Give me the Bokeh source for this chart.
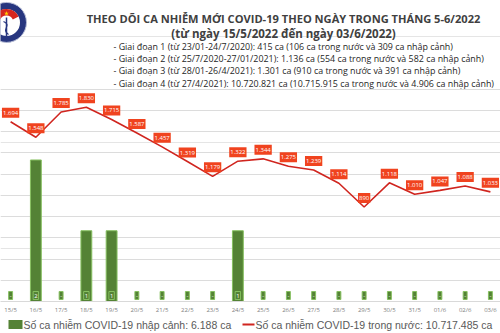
from bokeh.plotting import figure
from bokeh.layouts import column
from bokeh.models import Range1d, FixedTicker, Grid, Label
from bokeh.core.properties import value
from bokeh.embed import file_html
from bokeh.resources import INLINE

# ---------------- data ----------------
dates = ["15/5", "16/5", "17/5", "18/5", "19/5", "20/5", "21/5", "22/5", "23/5", "24/5",
         "25/5", "26/5", "27/5", "28/5", "29/5", "30/5", "31/5", "01/6", "02/6", "03/6"]
domestic = [1694, 1548, 1785, 1830, 1715, 1587, 1457, 1319, 1179, 1322,
            1344, 1275, 1239, 1114, 890, 1118, 1010, 1047, 1088, 1033]
imported = [0, 2, 0, 1, 1, 0, 0, 0, 0, 1,
            0, 0, 0, 0, 0, 0, 0, 0, 0, 0]
grid_ticks = [0, 200, 400, 600, 800, 1000, 1200, 1400, 1600, 1800, 2000]

title = "THEO DÕI CA NHIỄM MỚI COVID-19 THEO NGÀY TRONG THÁNG 5-6/2022"
subtitle = "(từ ngày 15/5/2022 đến ngày 03/6/2022)"
phases = [
    "- Giai đoạn 1 (từ 23/01-24/7/2020): 415 ca (106 ca trong nước và 309 ca nhập cảnh)",
    "- Giai đoạn 2 (từ 25/7/2020-27/01/2021): 1.136 ca (554 ca trong nước và 582 ca nhập cảnh)",
    "- Giai đoạn 3 (từ 28/01-26/4/2021): 1.301 ca (910 ca trong nước và 391 ca nhập cảnh)",
    "- Giai đoạn 4 (từ 27/4/2021): 10.720.821 ca (10.715.915 ca trong nước và 4.906 ca nhập cảnh)",
]
legend_imported = "Số ca nhiễm COVID-19 nhập cảnh: 6.188 ca"
legend_domestic = "Số ca nhiễm COVID-19 trong nước: 10.717.485 ca"

# ---------------- helpers ----------------
def vn(v):
    return f"{v:,}".replace(",", ".")

idx = list(range(len(dates)))
dom_labels = [vn(v) for v in domestic]
imp_labels = [str(v) if v else "-" for v in imported]

BAR = "#548235"
BAR_EDGE = "#86c060"
LINE = "#d0251f"
LBL = "#f0431f"

# ---------------- main chart ----------------
p = figure(width=500, height=316, output_backend="svg", toolbar_location=None,
           x_range=Range1d(-0.4, 19.4), y_range=Range1d(0, 2836),
           y_axis_location=None,
           min_border_left=0, min_border_right=0, min_border_top=0, min_border_bottom=14,
           outline_line_color=None, background_fill_color="white", border_fill_color="white")
p.extra_y_ranges = {"bars": Range1d(0, 4.2535), "px": Range1d(302, 0)}
p.extra_x_ranges = {"px": Range1d(0, 500)}

p.xgrid.visible = False
grid = Grid(dimension=1, ticker=FixedTicker(ticks=grid_ticks),
            grid_line_color="#dcdcdc", grid_line_width=1)
p.add_layout(grid)

ax = p.xaxis[0]
ax.ticker = FixedTicker(ticks=idx)
ax.major_label_overrides = {i: d for i, d in zip(idx, dates)}
ax.major_label_text_font_size = "6px"
ax.major_label_text_color = "#808080"
ax.major_label_text_font = "Open Sans"
ax.major_tick_line_color = None
ax.major_tick_out = 0
ax.major_tick_in = 0
ax.minor_tick_line_color = None
ax.minor_tick_out = 0
ax.axis_line_color = "#d9d9d9"
ax.major_label_standoff = 4

# bars (imported)
bars = p.vbar(x=idx, top=imported, width=0.43, y_range_name="bars",
              fill_color=BAR, line_color=BAR_EDGE, line_width=1)
p.text(x=idx, y=0, text=imp_labels, y_range_name="bars", y_offset=-6,
       text_align="center", text_baseline="middle", text_color="white",
       text_font=value("Open Sans"), text_font_size="6px",
       background_fill_color=BAR, border_line_color=BAR_EDGE, padding=(1, 2))

# line (domestic)
line = p.line(x=idx, y=domestic, line_color=LINE, line_width=1.6)
p.text(x=idx, y=domestic, text=dom_labels, y_offset=-9,
       text_align="center", text_baseline="middle", text_color="white",
       text_font=value("Open Sans"), text_font_size="6px",
       background_fill_color=LBL, padding=(1, 3))

# logo (decoration, canvas-pixel ranges)
kw = dict(x_range_name="px", y_range_name="px")
p.circle(x=6, y=22, radius=20, fill_color="#27367f", line_color="#b9bfd6", line_width=1, **kw)
p.circle(x=6, y=22, radius=13.5, fill_color="white", line_color=None, **kw)
p.annular_wedge(x=6, y=22, inner_radius=7, outer_radius=13.5, start_angle=0.45, end_angle=2.7,
                fill_color="#d7261e", line_color=None, **kw)
p.scatter(x=[6], y=[13], marker="star", size=5, fill_color="#ffd200", line_color=None, **kw)
p.segment(x0=6, y0=17, x1=6, y1=38, line_color="#27367f", line_width=1.5, **kw)
p.bezier(x0=3, y0=21, x1=8, y1=34, cx0=12, cy0=25, cx1=0, cy1=29, line_color="#27367f", line_width=1.2, **kw)

# titles
p.add_layout(Label(x=283, y=18, text=title, text_align="center", text_baseline="middle",
                   text_font="Open Sans", text_font_style="bold", text_font_size="11.1px",
                   text_color="#404040", **kw))
p.add_layout(Label(x=283, y=33, text=subtitle, text_align="center", text_baseline="middle",
                   text_font="Open Sans", text_font_style="bold", text_font_size="11.5px",
                   text_color="#404040", **kw))
for i, t in enumerate(phases):
    p.add_layout(Label(x=113, y=46 + i * 12.3, text=t, text_align="left", text_baseline="middle",
                       text_font="Open Sans", text_font_size="8.9px", text_color="#262626", **kw))

# ---------------- legend strip ----------------
lg = figure(width=500, height=17, output_backend="svg", toolbar_location=None,
            x_range=Range1d(0, 500), y_range=Range1d(17, 0),
            x_axis_location=None, y_axis_location=None,
            min_border_left=0, min_border_right=0, min_border_top=0, min_border_bottom=0,
            outline_line_color=None, background_fill_color="white", border_fill_color="white")
lg.xgrid.visible = False
lg.ygrid.visible = False
lg.quad(left=8, right=22, top=3.5, bottom=12.5, fill_color=BAR, line_color=None)
lg.segment(x0=242, y0=8, x1=254, y1=8, line_color=LINE, line_width=2)
lg.text(x=[23, 255], y=[8, 8], text=[legend_imported, legend_domestic],
        text_align="left", text_baseline="middle", text_color="#595959",
        text_font=value("Liberation Sans"), text_font_size="10.5px")

layout = column(p, lg, spacing=0)
open("out.html", "w").write(file_html(layout, INLINE))
